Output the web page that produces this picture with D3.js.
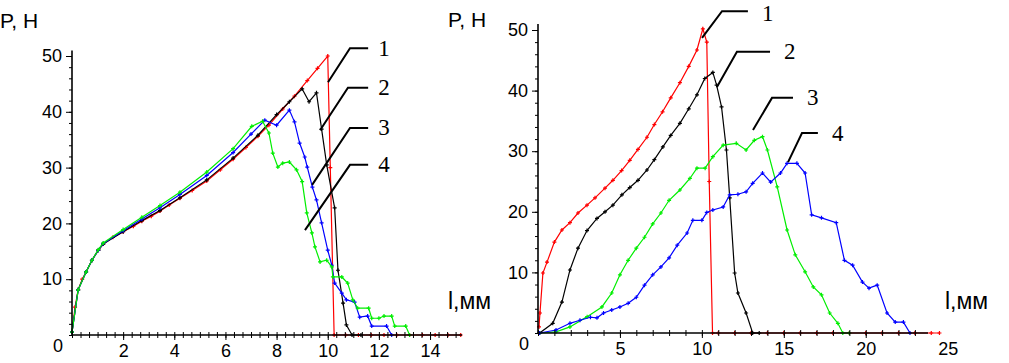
<!DOCTYPE html>
<html>
<head>
<meta charset="utf-8">
<script src="https://cdn.jsdelivr.net/npm/d3@7"></script>
<style>
  body { margin: 0; background: #fff; }
  svg { display: block; }
  .tick text { font-family: "Liberation Sans", Arial, sans-serif; font-size: 18px; fill: #000; }
  .title { font-family: "Liberation Sans", Arial, sans-serif; font-size: 21px; fill: #000; }
  .num { font-family: "Liberation Serif", "Times New Roman", serif; font-size: 23px; fill: #000; }
</style>
</head>
<body>
<div id="chart"></div>
<script>
// left panel, P(l) curves 1..4
const left1 = [[0,0.5],[0.12,5],[0.24,8.1],[0.4,10],[0.55,11.3],[0.78,13.4],[1.03,15.2],[1.22,16.3],[1.6,17.5],[2.0,18.5],[2.4,19.5],[2.73,20.4],[3.1,21.3],[3.44,22.2],[3.8,23.3],[4.22,24.5],[4.7,25.9],[5.27,27.6],[5.8,29.6],[6.3,31.5],[6.8,33.6],[7.27,35.6],[7.7,37.6],[8.24,40.5],[8.7,42.8],[9.2,45.6],[9.6,47.8],[10.0,50.0],[10.1,30],[10.25,0],[10.7,0],[11.2,0],[11.7,0],[12.2,0],[12.7,0],[13.2,0],[13.7,0],[14.2,0],[14.7,0],[15.2,0]];
const left2 = [[0,0.5],[0.24,8.1],[0.55,11.3],[0.78,13.4],[1.03,15.2],[1.22,16.3],[2.0,18.5],[2.73,20.5],[3.44,22.3],[4.22,24.6],[5.27,27.8],[6.3,31.7],[7.27,35.8],[8.0,39.5],[8.5,41.8],[9.0,44.1],[9.27,41.8],[9.56,43.4],[9.76,36.9],[9.96,30.5],[10.27,22.8],[10.4,11.6],[10.6,5.7],[10.73,1.8],[10.95,0],[11.3,0]];
const left3 = [[0,0.5],[0.24,8.1],[0.55,11.3],[0.78,13.4],[1.03,15.2],[1.22,16.4],[2.0,18.7],[2.73,20.8],[3.44,22.8],[4.22,25.2],[5.27,28.6],[6.3,32.7],[7.0,36.0],[7.54,38.5],[8.0,37.6],[8.5,40.3],[8.7,38.2],[8.9,34.4],[9.1,31.9],[9.2,30.1],[9.4,26.5],[9.56,24.2],[9.76,20.1],[10.0,15.2],[10.16,12.5],[10.27,9.3],[10.55,7.5],[10.73,6.3],[11.05,5.9],[11.25,3.2],[11.56,3.4],[11.72,1.6],[12.3,1.6],[12.5,0]];
const left4 = [[0,0.5],[0.24,8.1],[0.55,11.3],[0.78,13.4],[1.03,15.3],[1.22,16.5],[2.0,18.9],[2.73,21.1],[3.44,23.2],[4.22,25.6],[5.27,29.2],[6.3,33.4],[7.03,37.4],[7.45,38.3],[7.7,36.2],[7.85,32.6],[8.05,30.1],[8.24,30.8],[8.5,31],[8.78,29.6],[9.0,27.5],[9.18,21.9],[9.38,18.3],[9.5,15.8],[9.7,13.1],[9.96,13.4],[10.16,12.2],[10.2,10.4],[10.55,10.4],[10.78,9.3],[10.98,6.3],[11.17,4.8],[11.6,4.8],[11.72,3.0],[12.0,3.0],[12.2,3.4],[12.5,3.4],[12.62,1.6],[13.05,1.6],[13.2,0]];

// right panel, curves 1..4
const right1 = [[0.06,1],[0.12,3.3],[0.3,9.9],[0.55,11.7],[1.0,15.0],[1.46,17.0],[1.95,18.2],[2.44,19.8],[2.99,21.1],[3.48,22.3],[4.09,23.9],[4.57,25.2],[5.1,26.8],[5.6,28.5],[6.1,30.3],[6.65,32.3],[7.1,34.4],[7.6,36.5],[8.1,38.8],[8.66,41.3],[9.2,44.0],[9.7,46.7],[10.06,50.2],[10.3,48],[10.45,25],[10.65,0],[11,0],[12,0],[13,0],[14,0],[15,0],[16,0],[17,0],[18,0],[19,0],[20,0],[21,0],[22,0],[23,0],[24,0],[24.5,0]];
const right2 = [[0.1,0],[0.9,1.6],[1.46,5.1],[1.95,10.4],[2.44,14.0],[2.99,16.9],[3.6,18.9],[4.09,20.0],[4.57,21.1],[5.12,22.8],[5.6,24.0],[6.1,25.2],[6.65,26.9],[7.1,28.6],[7.62,30.7],[8.1,32.6],[8.66,34.6],[9.2,37.0],[9.7,39.3],[10.18,42.0],[10.67,43.0],[10.9,40.9],[11.2,37.3],[11.5,30.2],[11.7,22.3],[12.0,9.9],[12.2,6.6],[12.7,3.3],[13.1,0],[13.5,0]];
const right3 = [[0.1,0],[1.1,0.2],[1.95,1.0],[3.0,2.7],[3.9,4.3],[4.5,6.6],[5.0,9.6],[5.5,12.0],[6.0,14.0],[6.5,15.8],[7.0,18.0],[7.5,19.8],[8.0,21.9],[8.66,23.6],[9.27,25.5],[9.7,27.2],[10.2,27.2],[10.67,29.1],[11.3,31.0],[12.1,31.3],[12.7,30.2],[13.2,31.8],[13.7,32.4],[14.0,30.2],[14.6,24.1],[15.2,17.0],[15.7,12.9],[16.3,10.1],[16.8,7.6],[17.3,6.3],[17.8,3.3],[18.3,1.6],[18.6,0],[19,0]];
const right4 = [[0.1,0],[1.1,0.5],[1.95,1.6],[2.56,2.1],[3.2,2.6],[3.6,2.5],[4.0,3.3],[4.5,3.8],[5.0,4.3],[5.5,4.9],[6.0,5.9],[6.5,7.9],[7.0,9.6],[7.5,10.9],[8.0,12.4],[8.5,14.5],[9.1,16.5],[9.45,18.6],[10.0,18.6],[10.3,19.9],[10.67,20.3],[11.3,20.8],[11.7,22.8],[12.2,22.9],[12.7,23.3],[13.1,24.7],[13.7,26.4],[14.2,24.9],[14.8,26.4],[15.2,28.0],[15.8,28.0],[16.3,26.4],[16.7,19.5],[17.3,19.0],[18.2,18.2],[18.7,12.0],[19.2,11.2],[19.8,8.4],[20.2,7.4],[20.7,7.9],[21.3,3.3],[21.8,1.8],[22.3,1.8],[22.7,0]];

// colours of curves 1..4 in each panel
const leftColors = ["#ff0000", "#000000", "#0000ff", "#00ee00"];
const rightColors = ["#ff0000", "#000000", "#00ee00", "#0000ff"];

// tick labels
const yTicks = [10, 20, 30, 40, 50];
const leftXTicks = [2, 4, 6, 8, 10, 12, 14];
const rightXTicks = [5, 10, 15, 20, 25];

// leader lines for curve numbers (data units: end of shelf, elbow, tip)
const leftLeaders = [
  {n: "1", pts: [[11.58,51.4],[10.87,51.4],[10.01,45.3]]},
  {n: "2", pts: [[11.58,44.3],[10.79,44.3],[9.70,36.7]]},
  {n: "3", pts: [[11.58,37.1],[10.87,37.1],[9.39,26.9]]},
  {n: "4", pts: [[11.58,30.5],[10.87,30.5],[9.11,18.8]]}
];
const rightLeaders = [
  {n: "1", pts: [[12.81,53.1],[11.23,53.1],[10.01,48.7]]},
  {n: "2", pts: [[14.16,46.4],[12.14,46.4],[10.92,40.6]]},
  {n: "3", pts: [[15.56,38.8],[14.28,38.8],[13.12,33.5]]},
  {n: "4", pts: [[17.08,33.0],[16.11,33.0],[15.26,28.2]]}
];

const svg = d3.select("#chart").append("svg")
    .attr("width", 1009)
    .attr("height", 363);

function drawPanel(cfg) {
    const x = d3.scaleLinear().domain([0, cfg.xMax]).range(cfg.xRange);
    const y = d3.scaleLinear().domain([0, 50]).range(cfg.yRange);
    const g = svg.append("g");

    const line = d3.line().x(d => x(d[0])).y(d => y(d[1]));

    cfg.series.forEach((s, i) => {
        const col = cfg.colors[i];
        g.append("path")
            .datum(s)
            .attr("d", line)
            .attr("fill", "none")
            .attr("stroke", col)
            .attr("stroke-width", 1.2);
        // small cross markers
        g.selectAll(null).data(s).enter().append("path")
            .attr("transform", d => "translate(" + x(d[0]) + "," + y(d[1]) + ")")
            .attr("d", "M-2,0H2M0,-2V2")
            .attr("stroke", col)
            .attr("stroke-width", 1.2);
    });

    // y axis: minor ticks, then major ticks with labels
    const yMinor = d3.axisLeft(y).tickValues(d3.range(0, 51, 2)).tickSize(3).tickFormat("").tickSizeOuter(0);
    g.append("g").attr("transform", "translate(" + x(0) + ",0)").call(yMinor)
        .call(a => a.select(".domain").remove());
    const yAxis = d3.axisLeft(y).tickValues(yTicks).tickSize(6).tickPadding(4).tickSizeOuter(0);
    g.append("g").attr("transform", "translate(" + x(0) + ",0)").call(yAxis)
        .call(a => a.select(".domain").remove());

    // x axis: minor ticks crossing the line, major ticks longer
    const xMinor = d3.axisBottom(x).tickValues(cfg.xMinor).tickSize(3).tickFormat("").tickSizeOuter(0);
    g.append("g").attr("transform", "translate(0," + y(0) + ")").call(xMinor)
        .call(a => a.select(".domain").remove())
        .call(a => a.selectAll(".tick line").attr("y1", -3));
    const xAxis = d3.axisBottom(x).tickValues(cfg.xTicks).tickSize(5).tickPadding(4).tickSizeOuter(0);
    g.append("g").attr("transform", "translate(0," + y(0) + ")").call(xAxis)
        .call(a => a.select(".domain").remove())
        .call(a => a.selectAll(".tick line").filter(d => d > cfg.xMax).remove());

    g.selectAll(".tick line").attr("stroke", "#000").attr("stroke-width", 1);

    // axis lines
    g.append("line")
        .attr("x1", x(0)).attr("x2", x(cfg.xMax))
        .attr("y1", y(0)).attr("y2", y(0))
        .attr("stroke", "#000").attr("stroke-width", 1.6);
    g.append("line")
        .attr("x1", x(0)).attr("x2", x(0))
        .attr("y1", y(0)).attr("y2", y(51))
        .attr("stroke", "#000").attr("stroke-width", 1.6);

    // origin label
    g.append("text")
        .attr("x", x(0) - 9).attr("y", y(0) + 17)
        .attr("text-anchor", "end")
        .style("font-family", "Liberation Sans, Arial, sans-serif")
        .style("font-size", "18px")
        .text("0");

    // axis titles
    g.append("text").attr("class", "title")
        .attr("x", cfg.pTitle[0]).attr("y", cfg.pTitle[1])
        .text("P, H");
    g.append("text").attr("class", "title")
        .attr("x", cfg.lTitle[0]).attr("y", cfg.lTitle[1])
        .style("font-size", "23px")
        .text("l,мм");

    // curve numbers with leader lines
    cfg.leaders.forEach(l => {
        g.append("path")
            .datum(l.pts)
            .attr("d", line)
            .attr("fill", "none")
            .attr("stroke", "#000")
            .attr("stroke-width", 2);
        g.append("text").attr("class", "num")
            .attr("x", x(l.pts[0][0]) + cfg.numGap)
            .attr("y", Math.max(y(l.pts[0][1]), 13))
            .attr("dominant-baseline", "central")
            .text(l.n);
    });
}

drawPanel({
    series: [left1, left2, left3, left4], colors: leftColors,
    xMax: 15.25, xRange: [72, 462], yRange: [335, 56],
    xTicks: leftXTicks, xMinor: d3.range(0, 15.2, 1/3),
    pTitle: [0, 28], lTitle: [448, 309],
    leaders: leftLeaders, numGap: 10
});

drawPanel({
    series: [right1, right2, right3, right4], colors: rightColors,
    xMax: 23.8, xRange: [538, 928], yRange: [333, 30],
    xTicks: rightXTicks, xMinor: d3.range(0, 24, 1),
    pTitle: [448, 27], lTitle: [945, 309],
    leaders: rightLeaders, numGap: 14
});
</script>
</body>
</html>
